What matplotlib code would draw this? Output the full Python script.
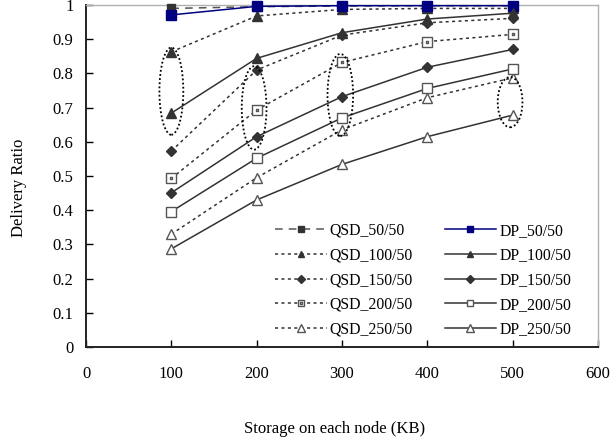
"""Delivery ratio vs. per-node storage, QSD vs DP."""

import matplotlib

matplotlib.use("Agg")
import matplotlib.pyplot as plt
from matplotlib.patches import Ellipse
from matplotlib.path import Path

storage = [100, 200, 300, 400, 500]

qsd_50 = [0.990, 0.995, 0.997, 0.998, 0.998]
qsd_100 = [0.863, 0.968, 0.987, 0.990, 0.990]
qsd_150 = [0.573, 0.810, 0.912, 0.948, 0.961]
qsd_200 = [0.493, 0.693, 0.832, 0.893, 0.914]
qsd_250 = [0.330, 0.495, 0.635, 0.729, 0.787]

dp_50 = [0.971, 0.996, 0.998, 0.998, 0.998]
dp_100 = [0.684, 0.844, 0.919, 0.959, 0.976]
dp_150 = [0.451, 0.615, 0.732, 0.818, 0.870]
dp_200 = [0.396, 0.552, 0.670, 0.756, 0.813]
dp_250 = [0.287, 0.430, 0.534, 0.615, 0.678]

x_ticks = [0, 100, 200, 300, 400, 500, 600]
y_ticks = [0, 0.1, 0.2, 0.3, 0.4, 0.5, 0.6, 0.7, 0.8, 0.9, 1]

# dotted ellipses marking the gap between the QSD and DP curves (x, y, w, h)
highlights = [
    (100, 0.748, 28, 0.255),
    (197, 0.699, 29, 0.244),
    (298, 0.737, 30, 0.240),
    (497, 0.716, 29, 0.147),
]

plt.rcParams["font.family"] = ["Liberation Serif", "DejaVu Serif"]
plt.rcParams["font.size"] = 12

DARK = "#333333"
OPEN = "#555555"

# open square with a dot in the middle (QSD_200/50)
_sq = [(-1, -1), (1, -1), (1, 1), (-1, 1), (-1, -1)]
_dot = [(x * 0.28, y * 0.28) for x, y in _sq]
dotted_square = Path(
    _sq + _dot,
    [Path.MOVETO] + [Path.LINETO] * 3 + [Path.CLOSEPOLY]
    + [Path.MOVETO] + [Path.LINETO] * 3 + [Path.CLOSEPOLY],
)

dots = (0, (2, 2.2))
series = [
    (qsd_50, "QSD_50/50", (0, (5, 4)), "s", 6, DARK, DARK, "#555555"),
    (qsd_100, "QSD_100/50", dots, "^", 6.5, DARK, DARK, DARK),
    (qsd_150, "QSD_150/50", dots, "D", 5.5, DARK, DARK, DARK),
    (qsd_200, "QSD_200/50", dots, dotted_square, 6.5, "white", OPEN, DARK),
    (qsd_250, "QSD_250/50", dots, "^", 7, "white", OPEN, DARK),
    (dp_50, "DP_50/50", "-", "s", 6.5, "#000080", "#000080", "#000080"),
    (dp_100, "DP_100/50", "-", "^", 6.5, DARK, DARK, DARK),
    (dp_150, "DP_150/50", "-", "D", 5.5, DARK, DARK, DARK),
    (dp_200, "DP_200/50", "-", "s", 6.5, "white", OPEN, DARK),
    (dp_250, "DP_250/50", "-", "^", 7, "white", OPEN, DARK),
]

fig = plt.figure(figsize=(6.11, 4.46), dpi=100)
ax = fig.add_axes([0.1408, 0.222, 0.8379, 0.7668])

for ys, label, ls, marker, ms, face, edge, color in series:
    ax.plot(
        storage, ys, linestyle=ls, color=color, linewidth=1.1,
        marker=marker, markersize=ms, markerfacecolor=face,
        markeredgecolor=edge, markeredgewidth=1.0, label=label,
        clip_on=False, zorder=3,
    )

for cx, cy, w, h in highlights:
    ax.add_patch(Ellipse(
        (cx, cy), w, h, fill=False, edgecolor="black",
        linestyle=(0, (1, 1.3)), linewidth=1.3, zorder=4,
    ))

ax.set_xlim(0, 600)
ax.set_ylim(0, 1)
ax.set_xticks(x_ticks)
ax.set_yticks(y_ticks)
ax.set_yticklabels([f"{v:g}" for v in y_ticks])
ax.tick_params(direction="in", length=5, width=1, colors="black")
ax.tick_params(axis="x", pad=14)
ax.tick_params(axis="y", pad=9)

for side in ("left", "bottom"):
    ax.spines[side].set_linewidth(1.4)
    ax.spines[side].set_color("#222222")
for side in ("top", "right"):
    ax.spines[side].set_linewidth(1.0)
    ax.spines[side].set_color("#b0b0b0")

ax.set_xlabel("Storage on each node (KB)")
ax.set_ylabel("Delivery Ratio")
ax.xaxis.set_label_coords(0.486, -0.217)
ax.yaxis.set_label_coords(-0.115, 0.465)

ax.legend(
    ncol=2, loc="lower left", bbox_to_anchor=(0.369, 0.028),
    frameon=False, fontsize=11.3, handlelength=3.3, handletextpad=0.2,
    columnspacing=2.0, labelspacing=0.55, borderpad=0, borderaxespad=0,
    markerscale=0.75,
)

fig.savefig("out.png", dpi=100)
